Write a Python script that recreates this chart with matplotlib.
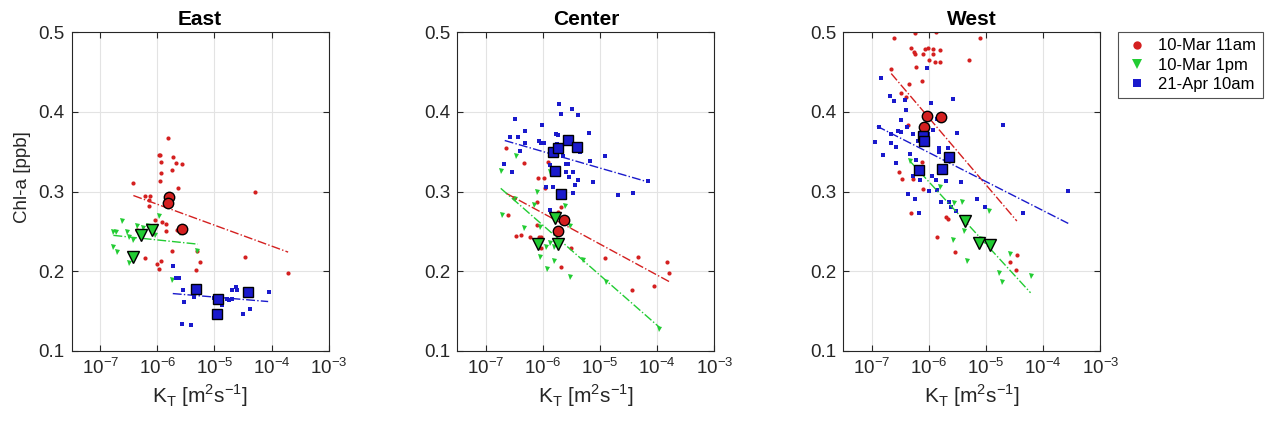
import numpy as np
import matplotlib

matplotlib.use("Agg")
import matplotlib.pyplot as plt

plt.rcParams["font.family"] = ["Liberation Sans", "DejaVu Sans"]
plt.rcParams["mathtext.fontset"] = "custom"
plt.rcParams["mathtext.rm"] = "Liberation Sans"

SERIES = ["10-Mar 11am", "10-Mar 1pm", "21-Apr 10am"]
COLORS = ["#d42020", "#22cc33", "#1a1acc"]
MARKERS = ["o", "v", "s"]
PANELS = ["East", "Center", "West"]

# ---- East ---- (K_T stored as log10 exponents)
east_red_logk = [-5.82, -5.95, -5.965, -5.73, -5.93, -5.68, -5.57, -5.75, -5.93, -5.95,
                 -6.42, -5.64, -6.21, -6.13, -6.14, -6.14, -6.05, -5.91, -5.84, -5.85,
                 -6.21, -6.0, -5.94, -5.97, -5.75, -4.29, -4.47, -3.71, -5.32, -5.26,
                 -5.30, -6.35, -5.65]
east_red_chl = [0.367, 0.346, 0.346, 0.343, 0.337, 0.336, 0.335, 0.327, 0.323, 0.313,
                0.311, 0.304, 0.295, 0.295, 0.289, 0.282, 0.264, 0.262, 0.259, 0.250,
                0.216, 0.209, 0.213, 0.203, 0.225, 0.299, 0.218, 0.198, 0.201, 0.211,
                0.226, 0.252, 0.252]
east_green_logk = [-6.62, -6.77, -6.73, -6.53, -6.50, -6.42, -6.35, -6.25, -6.17, -6.04,
                   -5.97, -6.77, -6.70, -6.50, -5.30, -5.75, -5.60]
east_green_chl = [0.263, 0.249, 0.249, 0.249, 0.243, 0.239, 0.257, 0.254, 0.257, 0.246,
                  0.269, 0.231, 0.224, 0.210, 0.226, 0.189, 0.248]
east_blue_logk = [-5.73, -5.68, -5.62, -5.55, -5.37, -5.53, -5.36, -5.56, -5.41, -5.0,
                  -4.95, -4.87, -4.78, -4.75, -4.69, -4.62, -4.60, -4.69, -4.50, -4.38,
                  -4.34, -4.05]
east_blue_chl = [0.207, 0.192, 0.192, 0.177, 0.176, 0.161, 0.168, 0.134, 0.132, 0.166,
                 0.161, 0.158, 0.165, 0.164, 0.177, 0.180, 0.176, 0.165, 0.146, 0.153,
                 0.176, 0.174]
east_big_logk = [[-5.80, -5.82, -5.56], [-6.43, -6.29, -6.09], [-5.33, -4.93, -4.96, -4.42]]
east_big_chl = [[0.293, 0.285, 0.253], [0.218, 0.245, 0.252], [0.178, 0.165, 0.146, 0.174]]
east_fit_logk = [[-6.42, -3.71], [-6.77, -5.29], [-5.73, -4.06]]
east_fit_chl = [[0.295, 0.224], [0.245, 0.234], [0.172, 0.162]]

# ---- Center ----
center_red_logk = [-6.65, -6.33, -5.91, -6.08, -5.98, -5.96, -6.62, -6.10, -6.10, -6.48,
                   -6.38, -6.22, -6.07, -6.03, -6.03, -5.73, -5.69, -5.51, -5.69, -4.91,
                   -4.33, -4.45, -4.06, -3.83, -3.79, -6.51]
center_red_chl = [0.354, 0.336, 0.337, 0.317, 0.317, 0.304, 0.270, 0.287, 0.258, 0.244,
                  0.245, 0.243, 0.243, 0.243, 0.229, 0.274, 0.281, 0.229, 0.205, 0.216,
                  0.218, 0.176, 0.182, 0.211, 0.198, 0.292]
center_green_logk = [-6.74, -6.47, -6.10, -5.87, -6.16, -5.62, -5.52, -6.72, -6.49, -6.33,
                     -6.06, -6.06, -5.95, -5.88, -5.93, -5.81, -5.53, -5.30, -4.90, -3.97,
                     -5.76, -5.80]
center_green_chl = [0.326, 0.344, 0.300, 0.325, 0.283, 0.282, 0.257, 0.270, 0.291, 0.254,
                    0.255, 0.218, 0.231, 0.235, 0.203, 0.213, 0.193, 0.214, 0.187, 0.128,
                    0.245, 0.231]
center_blue_logk = [-5.72, -5.68, -5.49, -5.38, -6.49, -6.01, -5.19, -6.58, -6.43, -6.32,
                    -6.32, -6.40, -6.07, -6.04, -5.98, -5.78, -5.74, -5.76, -5.65, -5.56,
                    -4.92, -5.36, -5.17, -6.68, -6.55, -5.88, -5.83, -5.60, -5.59, -5.55,
                    -5.48, -5.38, -5.44, -5.48, -5.12, -4.69, -4.42, -4.17, -5.87, -5.94,
                    -5.62]
center_blue_chl = [0.410, 0.397, 0.404, 0.396, 0.391, 0.383, 0.373, 0.369, 0.369, 0.376,
                   0.361, 0.351, 0.364, 0.361, 0.361, 0.372, 0.371, 0.359, 0.344, 0.335,
                   0.344, 0.349, 0.338, 0.335, 0.325, 0.333, 0.306, 0.335, 0.325, 0.318,
                   0.325, 0.315, 0.308, 0.298, 0.312, 0.296, 0.298, 0.313, 0.277, 0.306,
                   0.292]
center_big_logk = [[-5.63, -5.73], [-5.79, -6.09, -5.73],
                   [-5.83, -5.73, -5.56, -5.41, -5.79, -5.69]]
center_big_chl = [[0.264, 0.250], [0.267, 0.234, 0.234],
                  [0.350, 0.354, 0.365, 0.356, 0.326, 0.297]]
center_fit_logk = [[-6.65, -3.79], [-6.74, -3.95], [-6.67, -4.16]]
center_fit_chl = [[0.298, 0.187], [0.304, 0.129], [0.364, 0.312]]

# ---- West ----
west_red_logk = [-6.62, -6.25, -5.88, -5.10, -6.31, -6.26, -6.25, -6.10, -6.07, -6.02,
                 -5.93, -5.81, -5.92, -5.99, -5.90, -5.81, -5.30, -6.66, -6.22, -6.34,
                 -6.12, -6.48, -6.40, -6.37, -6.52, -6.47, -6.12, -6.28, -6.10, -6.31,
                 -5.86, -5.70, -5.66, -5.55, -4.58, -4.45, -4.48]
west_red_chl = [0.492, 0.499, 0.500, 0.493, 0.480, 0.475, 0.472, 0.472, 0.479, 0.480,
                0.479, 0.478, 0.473, 0.465, 0.463, 0.463, 0.465, 0.454, 0.456, 0.435,
                0.439, 0.423, 0.419, 0.384, 0.325, 0.316, 0.337, 0.316, 0.303, 0.273,
                0.243, 0.268, 0.265, 0.224, 0.212, 0.221, 0.201]
west_green_logk = [-6.33, -5.81, -5.42, -5.56, -5.57, -5.38, -5.33, -4.94, -4.58, -4.77,
                   -4.72, -4.22, -5.08]
west_green_chl = [0.338, 0.306, 0.287, 0.285, 0.239, 0.251, 0.213, 0.276, 0.222, 0.198,
                  0.186, 0.194, 0.240]
west_blue_logk = [-6.84, -6.03, -6.68, -6.62, -6.42, -6.40, -5.97, -5.58, -6.87, -6.94,
                  -6.66, -6.54, -6.49, -6.39, -6.28, -6.01, -5.93, -5.86, -5.51, -6.49,
                  -6.66, -6.57, -6.80, -6.33, -6.19, -6.07, -5.83, -5.67, -5.82, -6.58,
                  -6.22, -6.28, -6.15, -5.94, -5.87, -5.70, -5.43, -6.36, -6.25, -5.99,
                  -6.17, -5.78, -5.64, -5.61, -5.53, -5.15, -5.01, -4.70, -4.36, -3.56,
                  -5.86]
west_blue_chl = [0.442, 0.455, 0.420, 0.414, 0.415, 0.402, 0.411, 0.416, 0.381, 0.362,
                 0.372, 0.376, 0.375, 0.381, 0.372, 0.372, 0.377, 0.391, 0.373, 0.390,
                 0.361, 0.356, 0.346, 0.347, 0.363, 0.361, 0.354, 0.355, 0.350, 0.336,
                 0.339, 0.320, 0.315, 0.320, 0.315, 0.313, 0.312, 0.297, 0.291, 0.301,
                 0.273, 0.287, 0.287, 0.281, 0.276, 0.291, 0.280, 0.383, 0.273, 0.301,
                 0.302]
west_big_logk = [[-6.03, -5.78, -6.08], [-5.37, -5.12, -4.93],
                 [-6.10, -6.09, -6.17, -5.77, -5.64]]
west_big_chl = [[0.395, 0.393, 0.381], [0.263, 0.236, 0.233],
                [0.370, 0.364, 0.327, 0.328, 0.343]]
west_fit_logk = [[-6.66, -4.46], [-6.33, -4.22], [-6.91, -3.56]]
west_fit_chl = [[0.448, 0.263], [0.338, 0.173], [0.382, 0.260]]

small = {
    "East": [(east_red_logk, east_red_chl), (east_green_logk, east_green_chl),
             (east_blue_logk, east_blue_chl)],
    "Center": [(center_red_logk, center_red_chl), (center_green_logk, center_green_chl),
               (center_blue_logk, center_blue_chl)],
    "West": [(west_red_logk, west_red_chl), (west_green_logk, west_green_chl),
             (west_blue_logk, west_blue_chl)],
}
big = {
    "East": (east_big_logk, east_big_chl),
    "Center": (center_big_logk, center_big_chl),
    "West": (west_big_logk, west_big_chl),
}
fits = {
    "East": (east_fit_logk, east_fit_chl),
    "Center": (center_fit_logk, center_fit_chl),
    "West": (west_fit_logk, west_fit_chl),
}

fig = plt.figure(figsize=(12.69, 4.28), dpi=100)
lefts = [0.0565, 0.3604, 0.6645]
small_sizes = [3.0, 3.6, 2.8]
big_sizes = [7.5, 9.0, 6.5]
handles = []

for i, (name, left) in enumerate(zip(PANELS, lefts)):
    ax = fig.add_axes([left, 0.180, 0.2025, 0.745])
    ax.set_xscale("log")
    for j in range(3):
        lk, chl = small[name][j]
        h, = ax.plot(10.0 ** np.array(lk), chl, linestyle="none", marker=MARKERS[j],
                     markersize=small_sizes[j], color=COLORS[j], markeredgewidth=0,
                     label=SERIES[j])
        if i == 0:
            handles.append(h)
    for j in range(3):
        fk, fc = fits[name][0][j], fits[name][1][j]
        ax.plot(10.0 ** np.array(fk), fc, linestyle="-.", linewidth=1.0,
                color=COLORS[j])
    for j in range(3):
        bk, bc = big[name][0][j], big[name][1][j]
        ax.plot(10.0 ** np.array(bk), bc, linestyle="none", marker=MARKERS[j],
                markersize=big_sizes[j], color=COLORS[j],
                markeredgecolor="black", markeredgewidth=1.0)

    ax.set_xlim(10 ** -7.5, 1e-3)
    ax.set_ylim(0.1, 0.5)
    ax.set_xticks([1e-7, 1e-6, 1e-5, 1e-4, 1e-3])
    ax.xaxis.set_minor_locator(matplotlib.ticker.NullLocator())
    ax.set_yticks([0.1, 0.2, 0.3, 0.4, 0.5])
    ax.set_yticklabels(["0.1", "0.2", "0.3", "0.4", "0.5"])
    ax.tick_params(direction="in", labelsize=13.5, colors="#262626", length=4, pad=5,
                   top=True, right=True)
    ax.grid(True, color="#e3e3e3", linewidth=0.8)
    ax.set_axisbelow(True)
    for sp in ax.spines.values():
        sp.set_color("#262626")
        sp.set_linewidth(0.8)
    ax.set_title(name, fontsize=15, fontweight="bold", pad=5)
    ax.set_xlabel(r"K$_\mathregular{T}$ [m$^\mathregular{2}$s$^\mathregular{-1}$]",
                  fontsize=15, color="#262626", labelpad=3)
    if i == 0:
        ax.set_ylabel("Chl-a [ppb]", fontsize=13.5, color="#262626")
        ax.yaxis.set_label_coords(-0.16, 0.545)

leg = fig.legend(handles=handles, loc="upper left", bbox_to_anchor=(0.881, 0.926),
                 fontsize=12, frameon=True, fancybox=False, edgecolor="#262626",
                 handletextpad=0.5, borderpad=0.4, labelspacing=0.25, markerscale=2.0,
                 handlelength=1.5, borderaxespad=0)
leg.get_frame().set_linewidth(0.8)

fig.savefig("out.png", dpi=100)
